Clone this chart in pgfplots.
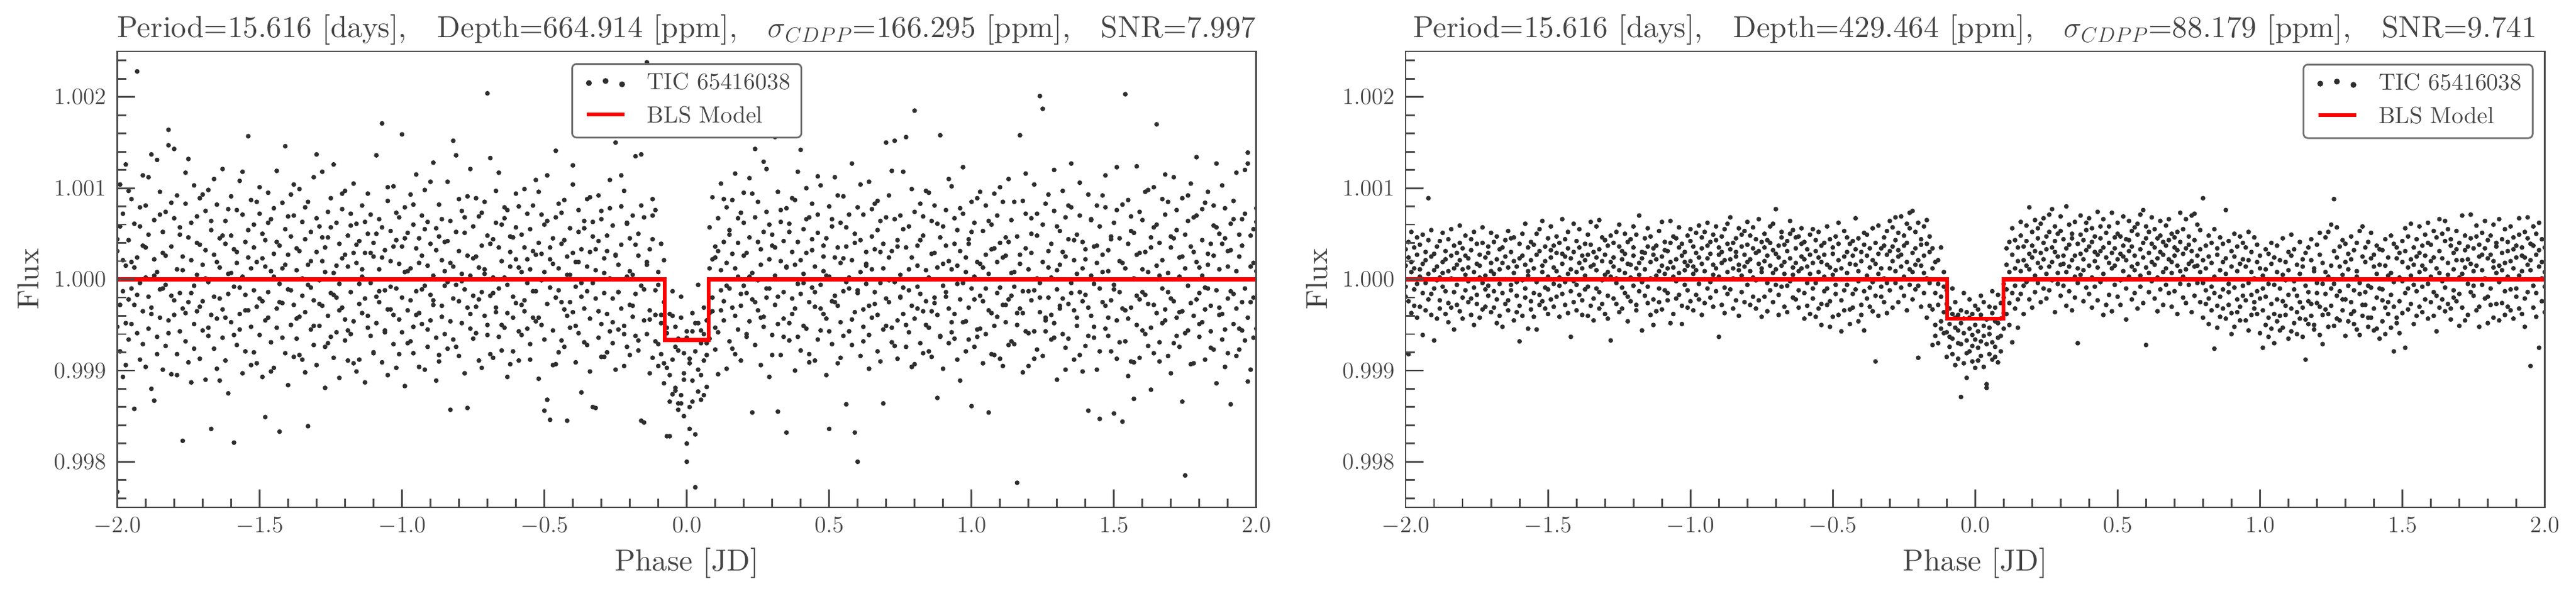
\RequirePackage{fix-cm}
\documentclass[border=0pt]{standalone}
\usepackage{fontspec}
\setmainfont{lmroman10-regular}[Extension=.otf, Ligatures=TeX]
\usepackage{pgfplots}
\pgfplotsset{compat=1.18}
\usepackage{pgfplotstable}
\definecolor{txt}{HTML}{444444}
\definecolor{frm}{HTML}{4D4D4D}
\definecolor{dot}{HTML}{2E2E2E}
\definecolor{legframe}{HTML}{6E6E6E}

\pgfplotstableread{
x a b c d
-2.00 0.99767 1.00031 0.99948 1.00044
-1.99 1.00058 0.99921 1.00104 0.99972
-1.98 0.99987 1.00072 0.99893 1.00021
-1.97 1.00015 0.99952 1.00126 0.99906
-1.96 0.99934 1.00043 0.99978 1.00097
-1.95 1.00088 0.99990 1.00019 0.99951
-1.94 0.99858 1.00061 0.99972 1.00013
-1.93 1.00228 0.99941 1.00024 0.99983
-1.92 1.00079 0.99996 0.99912 1.00058
-1.91 0.99965 1.00114 1.00037 0.99929
-1.90 1.00002 0.99904 1.00081 1.00035
-1.89 0.99946 1.00049 0.99981 1.00112
-1.88 1.00137 0.99969 0.99880 0.99962
-1.87 0.99867 1.00022 1.00065 1.00004
-1.86 1.00131 0.99937 1.00008 0.99918
-1.85 0.99989 1.00096 0.99958 1.00071
-1.84 1.00052 0.99901 1.00029 0.99990
-1.83 0.99927 1.00074 0.99994 1.00026
-1.82 1.00164 1.00147 0.99955 0.99941
-1.81 0.99982 1.00036 0.99896 1.00084
-1.80 1.00143 0.99961 1.00067 0.99977
-1.79 1.00011 0.99918 1.00092 0.99895
-1.78 0.99943 1.00057 0.99985 1.00049
-1.77 0.99823 1.00025 0.99968 1.00010
-1.76 1.00083 0.99932 1.00117 0.99963
-1.75 0.99975 1.00046 0.99909 1.00132
-1.74 1.00021 0.99887 1.00062 0.99985
-1.73 0.99951 1.00103 0.99993 0.99924
-1.72 1.00069 0.99965 1.00005 1.00040
-1.71 0.99913 1.00038 1.00089 0.99970
-1.70 1.00016 0.99944 0.99976 1.00093
-1.69 0.99890 1.00075 1.00032 1.00001
-1.68 1.00098 0.99997 0.99938 0.99947
-1.67 0.99836 1.00054 0.99961 1.00064
-1.66 1.00027 0.99924 1.00110 0.99981
-1.65 0.99957 1.00082 0.99902 1.00019
-1.64 1.00045 0.99979 1.00013 0.99889
-1.63 0.99936 1.00121 0.99967 1.00048
-1.62 1.00064 0.99911 1.00039 0.99958
-1.61 0.99984 1.00006 0.99875 1.00077
-1.60 1.00091 0.99953 1.00048 1.00007
-1.59 0.99821 1.00033 0.99992 0.99939
-1.58 1.00076 0.99928 1.00018 1.00030
-1.57 0.99962 1.00108 0.99945 0.99991
-1.56 1.00003 0.99897 1.00071 1.00118
-1.55 0.99921 1.00041 0.99983 0.99966
-1.54 1.00157 0.99966 1.00024 1.00054
-1.53 0.99948 1.00087 0.99906 1.00012
-1.52 1.00035 0.99988 1.00060 0.99920
-1.51 0.99908 1.00019 0.99970 1.00085
-1.50 1.00072 0.99939 1.00101 0.99979
-1.49 0.99976 1.00050 0.99893 1.00023
-1.48 0.99849 1.00014 1.00043 0.99955
-1.47 1.00095 0.99958 0.99986 1.00062
-1.46 0.99931 1.00066 1.00009 0.99899
-1.45 1.00028 0.99903 1.00078 1.00003
-1.44 0.99968 1.00119 0.99947 1.00041
-1.43 0.99833 1.00037 0.99995 0.99975
-1.42 1.00084 0.99974 1.00012 0.99936
-1.41 1.00146 0.99919 1.00055 1.00016
-1.40 0.99989 1.00027 0.99884 1.00069
-1.39 1.00047 0.99950 1.00093 0.99988
-1.38 0.99915 1.00070 0.99972 1.00104
-1.37 1.00010 0.99935 1.00034 0.99957
-1.36 0.99959 1.00099 0.99917 1.00031
-1.35 1.00063 0.99982 1.00001 0.99912
-1.34 0.99898 1.00044 0.99964 1.00079
-1.33 0.99839 1.00016 1.00085 0.99994
-1.32 1.00052 0.99945 0.99991 1.00020
-1.31 0.99977 1.00112 0.99928 0.99949
-1.30 1.00030 0.99906 1.00067 1.00137
-1.29 0.99949 1.00058 0.99999 0.99973
-1.28 1.00118 0.99971 1.00020 1.00046
-1.27 0.99926 1.00035 0.99881 1.00008
-1.26 1.00074 0.99960 1.00046 0.99930
-1.25 0.99985 1.00089 0.99937 1.00057
-1.24 1.00007 0.99914 1.00126 0.99983
-1.23 0.99942 1.00062 0.99980 1.00015
-1.22 1.00039 0.99995 0.99892 0.99966
-1.21 0.99969 1.00023 1.00077 1.00094
-1.20 1.00097 0.99933 0.99956 1.00027
-1.19 0.99911 1.00048 1.00014 0.99944
-1.18 1.00059 0.99986 0.99940 1.00072
-1.17 0.99954 1.00105 1.00029 0.99908
-1.16 1.00018 0.99899 1.00061 1.00038
-1.15 0.99973 1.00042 0.99912 0.99995
-1.14 1.00081 0.99963 1.00003 1.00011
-1.13 0.99887 1.00029 0.99979 1.00063
-1.12 1.00050 0.99947 1.00094 0.99960
-1.11 0.99938 1.00071 0.99996 1.00029
-1.10 1.00025 0.99920 1.00040 0.99919
-1.09 0.99981 1.00136 0.99952 1.00050
-1.08 1.00066 0.99975 1.00011 0.99987
-1.07 1.00171 0.99909 1.00057 1.00024
-1.06 0.99944 1.00032 0.99988 0.99942
-1.05 1.00086 0.99967 0.99895 1.00101
-1.04 0.99992 1.00053 1.00020 0.99967
-1.03 0.99929 1.00102 0.99961 1.00036
-1.02 1.00043 0.99990 1.00073 0.99903
-1.01 0.99956 1.00017 0.99918 1.00068
-1.00 1.00159 0.99942 1.00036 0.99980
-0.99 1.00008 1.00079 0.99883 1.00045
-0.98 0.99966 0.99930 1.00051 1.00009
-0.97 1.00093 1.00012 0.99977 0.99932
-0.96 0.99919 1.00060 0.99948 1.00082
-0.95 1.00034 0.99987 1.00115 0.99961
-0.94 0.99963 1.00045 0.99904 1.00018
-0.93 1.00070 0.99951 1.00026 0.99989
-0.92 0.99901 1.00098 0.99993 1.00055
-0.91 1.00015 0.99926 1.00063 0.99945
-0.90 0.99983 1.00039 0.99955 1.00107
-0.89 1.00128 0.99972 1.00004 0.99977
-0.88 0.99936 1.00056 0.99889 1.00032
-0.87 1.00047 0.99910 1.00082 0.99917
-0.86 0.99971 1.00021 0.99959 1.00066
-0.85 1.00009 0.99940 1.00041 0.99993
-0.84 0.99924 1.00107 0.99997 1.00042
-0.83 0.99857 1.00064 1.00018 0.99954
-0.82 1.00152 0.99979 0.99934 1.00014
-0.81 0.99994 1.00136 1.00052 0.99926
-0.80 1.00031 0.99916 0.99976 1.00088
-0.79 0.99952 1.00075 1.00006 0.99998
-0.78 1.00068 0.99989 0.99897 1.00051
-0.77 0.99859 1.00026 1.00091 0.99969
-0.76 1.00004 0.99946 0.99962 1.00121
-0.75 0.99935 1.00058 1.00023 0.99982
-0.74 1.00089 0.99970 0.99941 1.00025
-0.73 0.99978 1.00013 1.00069 0.99911
-0.72 1.00037 0.99903 0.99986 1.00073
-0.71 0.99960 1.00085 1.00011 1.00006
-0.70 1.00204 0.99939 1.00048 0.99950
-0.69 1.00133 0.99982 0.99918 1.00039
-0.68 0.99914 1.00044 1.00002 0.99985
-0.67 1.00062 0.99964 0.99969 1.00097
-0.66 0.99990 1.00117 1.00035 0.99937
-0.65 1.00020 0.99922 0.99950 1.00060
-0.64 0.99947 1.00067 1.00079 1.00002
-0.63 1.00076 0.99994 0.99893 0.99963
-0.62 0.99907 1.00030 1.00014 1.00047
-0.61 1.00046 0.99958 0.99981 0.99921
-0.60 0.99974 1.00094 1.00057 1.00022
-0.59 1.00013 0.99911 0.99943 1.00080
-0.58 0.99939 1.00049 1.00008 0.99972
-0.57 1.00099 0.99977 0.99965 1.00035
-0.56 0.99996 1.00022 1.00072 0.99946
-0.55 1.00055 0.99929 0.99912 1.00011
-0.54 0.99958 1.00081 1.00031 0.99987
-0.53 1.00027 0.99987 0.99954 1.00109
-0.52 0.99891 1.00040 1.00096 0.99958
-0.51 1.00071 0.99950 0.99999 1.00028
-0.50 0.99856 1.00008 1.00060 0.99934
-0.49 0.99868 1.00114 0.99973 1.00064
-0.48 0.99846 1.00035 1.00022 0.99991
-0.47 1.00045 0.99944 0.99906 1.00017
-0.46 0.99980 1.00141 1.00068 0.99907
-0.45 1.00012 0.99920 0.99988 1.00083
-0.44 0.99933 1.00073 1.00039 0.99975
-0.43 1.00087 0.99967 0.99926 1.00043
-0.42 0.99845 1.00025 1.00005 0.99960
-0.41 1.00056 0.99975 0.99947 1.00005
-0.40 0.99964 1.00104 1.00029 1.00125
-0.39 1.00019 0.99909 0.99992 0.99949
-0.38 0.99941 1.00052 1.00076 1.00019
-0.37 0.99876 0.99996 1.00033 0.99981
-0.36 1.00064 0.99931 0.99968 1.00056
-0.35 0.99987 1.00088 1.00014 0.99928
-0.34 1.00030 0.99957 0.99899 1.00090
-0.33 0.99860 1.00047 1.00063 0.99996
-0.32 0.99859 1.00010 0.99979 1.00033
-0.31 1.00092 0.99936 1.00042 0.99965
-0.30 0.99951 1.00066 0.99915 1.00075
-0.29 1.00023 0.99985 1.00007 0.99915
-0.28 0.99920 1.00031 0.99962 1.00048
-0.27 1.00078 0.99943 1.00109 1.00001
-0.26 0.99979 1.00059 0.99930 0.99953
-0.25 1.00150 0.99901 1.00026 1.00027
-0.24 0.99945 1.00016 0.99986 0.99986
-0.23 1.00038 0.99968 1.00080 1.00114
-0.22 0.99905 1.00097 0.99949 0.99940
-0.21 1.00061 0.99926 1.00003 1.00062
-0.20 0.99972 1.00045 0.99917 1.00009
-0.19 1.00005 0.99959 1.00070 0.99971
-0.18 1.00135 0.99984 0.99938 1.00038
-0.17 0.99933 1.00026 1.00050 0.99922
-0.16 0.99845 1.00137 0.99993 1.00081
-0.15 0.99843 1.00068 0.99955 0.99989
-0.14 1.00238 0.99940 1.00019 1.00016
-0.13 0.99897 1.00033 0.99966 0.99956
-0.12 1.00044 0.99914 1.00088 1.00070
-0.11 0.99961 1.00076 0.99988 0.99932
-0.10 1.00008 0.99929 0.99905 0.99994
-0.09 0.99918 1.00039 0.99952 0.99961
-0.08 0.99975 0.99886 1.00021 0.99908
-0.07 0.99828 0.99941 0.99903 0.99947
-0.06 0.99828 0.99866 0.99962 0.99895
-0.05 0.99912 0.99874 0.99987 0.99960
-0.04 0.99948 0.99881 0.99926 0.99878
-0.03 0.99864 0.99857 0.99935 0.99922
-0.02 0.99873 0.99864 0.99958 0.99981
-0.01 0.99850 0.99919 0.99897 0.99890
0.00 0.99820 0.99800 0.99936 0.99943
0.01 0.99836 0.99860 0.99908 0.99913
0.02 0.99943 0.99889 0.99963 0.99866
0.03 0.99772 0.99830 0.99921 0.99952
0.04 0.99952 0.99877 0.99994 0.99901
0.05 0.99895 0.99930 0.99868 0.99944
0.06 0.99969 0.99911 0.99940 0.99873
0.07 0.99882 0.99955 0.99917 0.99930
0.08 1.00012 0.99935 1.00057 0.99963
0.09 0.99965 1.00090 0.99980 1.00022
0.10 1.00036 0.99923 1.00024 0.99947
0.11 0.99942 1.00067 0.99896 1.00031
0.12 1.00105 0.99988 1.00010 0.99966
0.13 0.99976 1.00041 0.99955 1.00088
0.14 1.00018 0.99902 1.00079 0.99993
0.15 0.99932 1.00054 0.99990 1.00049
0.16 1.00087 0.99969 1.00028 0.99924
0.17 0.99960 1.00116 0.99918 1.00012
0.18 1.00040 0.99945 1.00003 1.00067
0.19 0.99911 1.00073 0.99971 0.99984
0.20 1.00062 0.99993 1.00095 1.00026
0.21 0.99985 1.00029 0.99937 0.99940
0.22 1.00111 0.99954 1.00046 1.00003
0.23 0.99854 1.00007 0.99978 1.00094
0.24 1.00143 0.99928 1.00068 0.99975
0.25 0.99966 1.00085 0.99999 1.00041
0.26 1.00033 0.99906 1.00016 0.99958
0.27 0.99948 1.00052 0.99959 1.00129
0.28 1.00074 0.99980 1.00121 0.99990
0.29 0.99990 1.00022 0.99893 1.00060
0.30 1.00049 0.99939 1.00037 0.99917
0.31 1.00156 0.99972 1.00004 1.00035
0.32 0.99855 1.00096 0.99951 0.99981
0.33 1.00020 0.99917 1.00063 1.00076
0.34 0.99957 1.00042 0.99986 0.99937
0.35 0.99832 1.00078 1.00013 1.00014
0.36 1.00061 0.99952 0.99933 1.00052
0.37 0.99979 1.00030 1.00089 0.99962
0.38 1.00016 0.99900 0.99968 1.00087
0.39 0.99937 1.00118 1.00041 0.99995
0.40 1.00142 0.99984 0.99922 1.00021
0.41 0.99996 1.00055 1.00006 0.99949
0.42 1.00029 0.99946 1.00100 1.00066
0.43 0.99918 1.00068 0.99975 0.99909
0.44 1.00083 0.99991 1.00032 1.00044
0.45 0.99970 1.00014 0.99911 0.99986
0.46 1.00051 0.99934 1.00071 1.00113
0.47 0.99944 1.00103 0.99994 0.99968
0.48 1.00009 0.99962 1.00025 1.00037
0.49 0.99895 1.00045 0.99957 1.00004
0.50 0.99836 1.00080 1.00003 0.99943
0.51 1.00066 0.99976 0.99929 1.00058
0.52 0.99982 1.00024 1.00112 0.99975
0.53 1.00035 0.99908 0.99971 1.00092
0.54 0.99953 1.00062 1.00018 0.99914
0.55 1.00091 0.99987 0.99938 1.00023
0.56 0.99863 1.00036 1.00057 0.99997
0.57 1.00002 0.99943 0.99990 1.00071
0.58 0.99928 1.00127 1.00021 0.99956
0.59 0.99832 1.00050 0.99964 1.00040
0.60 0.99800 0.99985 1.00079 0.99988
0.61 1.00043 0.99916 1.00008 1.00104
0.62 0.99967 1.00071 0.99948 0.99932
0.63 1.00017 0.99995 1.00030 1.00015
0.64 0.99939 1.00107 0.99902 0.99971
0.65 1.00077 0.99958 1.00011 1.00047
0.66 0.99986 1.00033 0.99973 1.00083
0.67 1.00054 0.99921 1.00086 0.99961
0.68 0.99910 1.00064 0.99996 1.00030
0.69 0.99864 1.00012 1.00039 0.99945
0.70 1.00150 0.99949 0.99979 1.00068
0.71 0.99975 1.00092 1.00024 0.99999
0.72 1.00031 0.99931 0.99947 1.00119
0.73 1.00152 0.99997 1.00066 0.99927
0.74 0.99955 1.00043 0.99913 1.00036
0.75 1.00070 0.99980 1.00005 0.99981
0.76 0.99991 1.00118 0.99962 1.00055
0.77 1.00156 0.99926 1.00035 0.99950
0.78 0.99942 1.00058 0.99988 1.00011
0.79 1.00024 0.99971 1.00099 0.99904
0.80 1.00185 0.99907 0.99957 1.00074
0.81 0.99968 1.00037 1.00015 0.99992
0.82 1.00083 0.99984 0.99930 1.00043
0.83 0.99919 1.00069 1.00048 0.99965
0.84 1.00010 0.99950 0.99976 1.00097
0.85 0.99947 1.00095 1.00002 0.99921
0.86 1.00064 0.99915 0.99965 1.00028
0.87 0.99980 1.00029 1.00081 0.99974
0.88 0.99870 0.99961 1.00013 1.00061
0.89 1.00158 1.00046 0.99937 0.99938
0.90 0.99993 0.99902 1.00058 1.00017
0.91 1.00037 1.00076 0.99981 0.99986
0.92 0.99930 0.99968 1.00020 1.00110
0.93 1.00102 1.00011 0.99942 0.99953
0.94 0.99962 0.99935 1.00067 1.00039
0.95 1.00015 1.00054 0.99995 0.99912
0.96 0.99889 0.99978 1.00031 1.00078
0.97 1.00072 1.00123 0.99953 0.99996
0.98 0.99954 0.99921 1.00008 1.00024
0.99 1.00044 1.00039 0.99969 0.99934
1.00 0.99861 0.99990 1.00085 1.00052
1.01 1.00003 1.00062 0.99926 0.99978
1.02 0.99937 0.99945 1.00019 1.00089
1.03 1.00096 1.00017 0.99982 0.99946
1.04 0.99976 0.99908 1.00053 1.00013
1.05 1.00027 1.00081 0.99940 0.99990
1.06 0.99854 0.99966 1.00006 1.00064
1.07 1.00060 1.00033 0.99963 0.99918
1.08 0.99949 0.99917 1.00094 1.00034
1.09 1.00019 1.00070 0.99985 0.99959
1.10 0.99913 0.99991 1.00040 1.00101
1.11 1.00085 1.00024 0.99905 0.99972
1.12 0.99972 0.99953 1.00026 1.00046
1.13 1.00041 1.00110 0.99978 0.99928
1.14 0.99932 0.99982 1.00065 1.00007
1.15 1.00008 0.99929 0.99992 1.00085
1.16 0.99777 1.00047 0.99950 0.99963
1.17 1.00158 0.99968 1.00017 1.00027
1.18 0.99963 1.00086 0.99898 0.99987
1.19 1.00034 0.99943 1.00072 1.00116
1.20 0.99905 1.00011 0.99987 0.99941
1.21 1.00067 0.99977 1.00029 1.00050
1.22 0.99988 1.00104 0.99943 0.99913
1.23 1.00048 0.99923 1.00001 1.00072
1.24 1.00201 0.99996 0.99964 0.99980
1.25 1.00187 1.00060 0.99916 1.00019
1.26 0.99943 0.99958 1.00083 0.99955
1.27 1.00013 1.00031 0.99980 1.00093
1.28 0.99961 0.99934 1.00039 1.00002
1.29 1.00120 1.00075 0.99952 0.99936
1.30 0.99890 0.99989 1.00010 1.00058
1.31 1.00053 1.00016 0.99971 0.99968
1.32 0.99979 0.99940 1.00097 1.00030
1.33 1.00025 1.00068 0.99925 0.99901
1.34 0.99935 0.99973 1.00044 1.00081
1.35 1.00079 1.00127 0.99996 0.99985
1.36 0.99966 0.99912 1.00021 1.00043
1.37 1.00006 1.00049 0.99958 0.99949
1.38 0.99917 0.99986 1.00070 1.00106
1.39 1.00041 1.00012 0.99899 0.99976
1.40 0.99983 0.99927 1.00033 1.00022
1.41 0.99856 1.00093 0.99969 0.99938
1.42 1.00066 0.99960 1.00004 1.00065
1.43 0.99948 1.00036 0.99936 0.99995
1.44 1.00018 0.99901 1.00081 1.00037
1.45 0.99847 1.00058 0.99990 0.99921
1.46 1.00092 0.99975 1.00027 1.00008
1.47 0.99971 1.00114 0.99946 1.00079
1.48 1.00032 0.99938 1.00009 0.99958
1.49 0.99921 1.00047 0.99977 1.00044
1.50 0.99853 0.99994 1.00062 0.99989
1.51 1.00076 0.99955 0.99913 1.00123
1.52 0.99986 1.00020 1.00045 0.99931
1.53 0.99844 1.00082 0.99968 1.00018
1.54 1.00203 0.99932 1.00012 0.99966
1.55 0.99957 1.00039 0.99894 1.00087
1.56 1.00069 0.99969 1.00053 0.99910
1.57 0.99909 0.99869 1.00001 1.00051
1.58 1.00124 1.00027 0.99950 0.99982
1.59 0.99978 0.99914 1.00074 1.00029
1.60 1.00011 1.00065 0.99986 0.99944
1.61 0.99940 0.99983 1.00030 1.00096
1.62 1.00098 1.00008 0.99927 0.99973
1.63 0.99879 0.99947 1.00046 1.00035
1.64 1.00057 1.00101 0.99972 0.99919
1.65 1.00170 0.99963 1.00015 1.00060
1.66 0.99931 1.00040 0.99910 1.00004
1.67 1.00021 0.99990 1.00088 0.99952
1.68 0.99967 1.00071 0.99955 1.00115
1.69 1.00085 0.99916 1.00007 0.99986
1.70 0.99897 1.00035 0.99979 1.00047
1.71 1.00045 0.99976 1.00112 0.99930
1.72 0.99958 1.00054 0.99938 1.00076
1.73 1.00003 0.99926 1.00024 0.99964
1.74 0.99866 1.00089 0.99965 1.00025
1.75 0.99785 1.00012 1.00049 0.99941
1.76 1.00064 0.99944 0.99993 1.00092
1.77 0.99974 1.00105 1.00036 0.99907
1.78 1.00030 0.99960 0.99908 1.00068
1.79 1.00134 1.00019 1.00070 0.99978
1.80 0.99937 0.99985 0.99951 1.00013
1.81 1.00077 1.00043 1.00004 0.99953
1.82 0.99991 0.99912 0.99967 1.00084
1.83 1.00016 1.00096 1.00028 0.99990
1.84 0.99925 0.99971 0.99943 1.00039
1.85 1.00059 1.00026 1.00081 0.99923
1.86 1.00127 0.99886 0.99988 1.00057
1.87 0.99961 1.00050 1.00011 0.99969
1.88 1.00039 0.99934 0.99962 1.00103
1.89 0.99904 1.00078 1.00045 0.99945
1.90 1.00014 0.99979 0.99919 1.00031
1.91 0.99863 1.00061 1.00032 0.99987
1.92 1.00086 0.99951 0.99984 1.00066
1.93 0.99968 1.00117 1.00009 0.99916
1.94 1.00025 0.99923 0.99946 1.00049
1.95 0.99944 1.00037 1.00066 0.99975
1.96 1.00072 0.99990 0.99933 1.00120
1.97 0.99888 1.00139 1.00127 0.99958
1.98 1.00048 0.99901 0.99975 1.00014
1.99 0.99980 1.00055 1.00018 0.99936
2.00 1.00009 0.99946 1.00063 1.00078
}\dataL

\pgfplotstableread{
x a b c d
-2.00 1.00015 0.99981 1.00033 0.99992
-1.99 0.99918 1.00024 0.99976 1.00041
-1.98 1.00008 0.99963 1.00019 1.00052
-1.97 0.99989 1.00035 0.99971 1.00012
-1.96 1.00027 0.99995 1.00046 0.99958
-1.95 0.99970 1.00011 1.00003 1.00038
-1.94 0.99939 1.00049 0.99985 1.00017
-1.93 1.00021 0.99966 1.00030 0.99996
-1.92 1.00089 1.00006 0.99978 1.00043
-1.91 0.99984 1.00025 1.00054 0.99961
-1.90 0.99933 1.00010 0.99990 1.00028
-1.89 1.00036 0.99957 1.00014 0.99999
-1.88 0.99977 1.00042 1.00002 0.99968
-1.87 1.00019 0.99992 1.00051 1.00007
-1.86 0.99962 1.00031 0.99987 1.00022
-1.85 1.00044 0.99974 1.00009 0.99953
-1.84 1.00001 1.00055 0.99969 1.00026
-1.83 0.99986 0.99945 1.00037 1.00012
-1.82 1.00029 1.00016 0.99994 0.99972
-1.81 0.99965 1.00040 1.00021 1.00059
-1.80 1.00011 0.99980 0.99957 1.00034
-1.79 1.00048 1.00005 1.00026 0.99988
-1.78 0.99975 1.00023 0.99998 1.00013
-1.77 1.00032 0.99961 1.00044 0.99979
-1.76 0.99991 1.00052 1.00008 0.99950
-1.75 1.00017 0.99983 0.99973 1.00039
-1.74 0.99958 1.00027 1.00015 1.00002
-1.73 1.00040 0.99996 1.00057 0.99967
-1.72 1.00004 0.99970 0.99989 1.00024
-1.71 0.99982 1.00036 1.00029 0.99993
-1.70 1.00051 1.00009 0.99964 1.00018
-1.69 0.99969 0.99987 1.00041 1.00006
-1.68 1.00022 1.00047 0.99978 0.99952
-1.67 0.99995 0.99960 1.00011 1.00033
-1.66 1.00035 1.00018 0.99948 0.99985
-1.65 0.99973 1.00043 1.00025 1.00000
-1.64 1.00013 0.99977 1.00053 0.99966
-1.63 0.99988 1.00030 0.99994 1.00045
-1.62 1.00046 0.99955 1.00007 1.00020
-1.61 0.99964 1.00014 0.99982 0.99997
-1.60 0.99932 1.00039 1.00023 0.99971
-1.59 1.00026 0.99999 0.99960 1.00050
-1.58 0.99980 1.00061 1.00016 0.99990
-1.57 1.00009 0.99946 1.00035 1.00004
-1.56 0.99967 1.00021 0.99976 1.00041
-1.55 1.00038 0.99985 1.00012 0.99959
-1.54 0.99997 1.00050 0.99945 1.00027
-1.53 1.00055 0.99972 1.00031 0.99983
-1.52 0.99976 1.00008 1.00064 1.00015
-1.51 1.00020 0.99991 0.99968 1.00036
-1.50 0.99989 1.00045 1.00003 0.99962
-1.49 1.00032 0.99978 1.00024 1.00058
-1.48 0.99970 1.00013 0.99995 1.00037
-1.47 1.00047 1.00029 0.99981 1.00009
-1.46 1.00002 0.99959 1.00040 0.99993
-1.45 0.99984 1.00066 1.00017 1.00028
-1.44 1.00025 0.99997 0.99972 1.00044
-1.43 0.99963 1.00034 1.00052 1.00006
-1.42 0.99937 1.00011 0.99987 1.00023
-1.41 1.00061 0.99975 1.00030 0.99998
-1.40 0.99994 1.00042 1.00008 0.99966
-1.39 1.00018 0.99983 1.00055 1.00035
-1.38 0.99977 1.00026 0.99961 1.00012
-1.37 1.00039 1.00004 1.00021 0.99989
-1.36 0.99960 1.00049 0.99992 1.00027
-1.35 1.00014 0.99971 1.00038 1.00063
-1.34 1.00030 1.00016 0.99979 0.99955
-1.33 0.99990 1.00058 1.00010 1.00024
-1.32 1.00065 0.99986 1.00033 0.99968
-1.31 0.99973 1.00020 0.99999 1.00046
-1.30 1.00043 0.99962 1.00027 1.00005
-1.29 1.00008 1.00037 0.99957 0.99982
-1.28 0.99933 1.00003 1.00048 1.00019
-1.27 1.00024 0.99979 1.00014 1.00040
-1.26 0.99996 1.00052 0.99973 1.00001
-1.25 1.00036 1.00010 1.00060 0.99964
-1.24 0.99968 0.99991 1.00022 1.00031
-1.23 1.00050 1.00028 0.99985 1.00007
-1.22 0.99981 0.99954 1.00041 1.00017
-1.21 1.00016 1.00044 1.00002 0.99976
-1.20 1.00058 0.99993 1.00026 1.00035
-1.19 0.99972 1.00012 0.99966 1.00049
-1.18 1.00005 1.00070 1.00018 0.99987
-1.17 0.99944 1.00023 0.99997 1.00030
-1.16 1.00029 0.99982 1.00045 1.00011
-1.15 0.99992 1.00036 0.99974 1.00056
-1.14 1.00047 1.00001 1.00019 0.99961
-1.13 0.99978 1.00027 0.99950 1.00034
-1.12 1.00022 0.99965 1.00037 1.00004
-1.11 1.00009 1.00053 0.99990 0.99975
-1.10 0.99967 1.00015 1.00063 1.00025
-1.09 1.00041 0.99988 1.00006 1.00032
-1.08 0.99985 1.00031 0.99977 1.00012
-1.07 1.00064 1.00019 1.00040 0.99952
-1.06 1.00003 0.99962 1.00013 1.00047
-1.05 0.99979 1.00045 0.99998 1.00022
-1.04 1.00035 1.00007 1.00057 0.99983
-1.03 0.99951 1.00026 0.99971 1.00039
-1.02 1.00019 0.99994 1.00030 1.00010
-1.01 0.99988 1.00048 1.00015 0.99969
-1.00 1.00042 1.00020 0.99976 1.00055
-0.99 1.00006 0.99966 1.00036 1.00014
-0.98 0.99983 1.00051 1.00010 1.00029
-0.97 1.00059 0.99995 1.00024 0.99978
-0.96 1.00017 1.00034 0.99961 1.00046
-0.95 0.99974 1.00009 1.00052 1.00000
-0.94 1.00037 1.00062 0.99990 1.00023
-0.93 0.99997 0.99980 1.00028 1.00041
-0.92 1.00049 1.00016 0.99970 1.00005
-0.91 1.00012 1.00043 1.00058 0.99987
-0.90 0.99937 1.00027 1.00003 1.00035
-0.89 1.00030 0.99972 1.00047 1.00018
-0.88 0.99991 1.00055 1.00021 0.99963
-0.87 1.00061 1.00008 0.99984 1.00039
-0.86 1.00022 0.99989 1.00033 1.00068
-0.85 0.99968 1.00040 1.00012 1.00001
-0.84 1.00045 1.00025 0.99977 1.00030
-0.83 1.00010 0.99960 1.00056 1.00016
-0.82 0.99986 1.00036 1.00004 1.00049
-0.81 1.00053 1.00014 1.00027 0.99975
-0.80 1.00019 0.99994 1.00063 1.00038
-0.79 0.99972 1.00048 1.00009 1.00022
-0.78 1.00034 1.00002 0.99981 1.00057
-0.77 0.99999 1.00029 1.00044 0.99968
-0.76 1.00066 0.99977 1.00017 1.00031
-0.75 1.00008 1.00041 0.99959 1.00012
-0.74 0.99981 1.00020 1.00050 1.00035
-0.73 1.00043 0.99965 1.00026 0.99996
-0.72 1.00015 1.00058 0.99988 1.00040
-0.71 0.99975 1.00032 1.00061 1.00007
-0.70 1.00077 1.00011 0.99994 1.00028
-0.69 1.00024 0.99983 1.00037 0.99961
-0.68 0.99992 1.00046 1.00015 1.00052
-0.67 1.00038 1.00006 0.99970 1.00019
-0.66 0.99964 1.00031 1.00042 0.99993
-0.65 1.00050 0.99998 1.00023 1.00064
-0.64 1.00005 1.00054 0.99980 1.00013
-0.63 0.99978 1.00018 1.00034 1.00046
-0.62 1.00047 0.99969 1.00009 0.99988
-0.61 1.00012 1.00039 1.00056 1.00025
-0.60 0.99985 1.00022 0.99957 1.00041
-0.59 1.00033 0.99996 1.00014 0.99971
-0.58 0.99962 1.00049 1.00027 1.00006
-0.57 1.00018 0.99979 0.99990 1.00055
-0.56 0.99996 1.00031 1.00043 0.99959
-0.55 1.00052 1.00008 0.99968 1.00024
-0.54 0.99973 0.99950 1.00019 1.00037
-0.53 1.00027 1.00040 0.99987 1.00003
-0.52 0.99990 0.99972 1.00058 1.00016
-0.51 1.00044 1.00013 0.99976 0.99948
-0.50 0.99959 1.00035 1.00005 1.00028
-0.49 1.00010 0.99984 1.00047 0.99994
-0.48 1.00062 1.00021 0.99961 1.00039
-0.47 0.99977 0.99943 1.00012 1.00000
-0.46 1.00025 1.00053 0.99988 0.99966
-0.45 0.99994 1.00007 1.00030 1.00046
-0.44 1.00039 0.99967 0.99951 1.00017
-0.43 0.99969 1.00026 1.00042 0.99984
-0.42 1.00016 0.99989 1.00067 1.00033
-0.41 0.99954 1.00045 0.99998 1.00009
-0.40 1.00030 0.99972 1.00020 0.99961
-0.39 0.99987 1.00038 0.99944 1.00051
-0.38 1.00049 1.00004 1.00026 0.99979
-0.37 0.99970 0.99991 1.00013 1.00034
-0.36 1.00021 1.00056 0.99965 0.99997
-0.35 0.99910 1.00017 1.00040 0.99982
-0.34 1.00006 0.99960 1.00028 1.00059
-0.33 0.99981 1.00034 0.99992 1.00012
-0.32 1.00046 1.00001 0.99975 1.00037
-0.31 0.99963 1.00027 1.00053 0.99996
-0.30 1.00031 0.99988 1.00012 1.00064
-0.29 1.00057 1.00020 0.99969 1.00036
-0.28 0.99996 1.00043 1.00068 1.00009
-0.27 1.00025 0.99975 1.00032 1.00051
-0.26 1.00069 1.00014 0.99991 1.00027
-0.25 0.99982 1.00048 1.00037 1.00003
-0.24 1.00040 1.00061 0.99966 1.00019
-0.23 1.00011 0.99994 1.00056 1.00073
-0.22 1.00075 1.00029 1.00008 0.99978
-0.21 0.99989 1.00052 1.00034 1.00016
-0.20 0.99914 1.00021 1.00062 0.99993
-0.19 1.00044 0.99970 1.00015 1.00038
-0.18 1.00007 1.00058 0.99985 1.00026
-0.17 1.00065 1.00001 1.00039 0.99958
-0.16 0.99971 1.00030 0.99996 1.00047
-0.15 0.99928 1.00012 0.99967 1.00034
-0.14 0.99985 0.99950 1.00019 0.99938
-0.13 1.00021 0.99972 0.99930 0.99995
-0.12 0.99954 1.00035 0.99981 0.99946
-0.11 0.99992 0.99941 1.00008 0.99964
-0.10 0.99973 0.99942 0.99915 0.99988
-0.09 0.99951 0.99926 0.99968 0.99937
-0.08 0.99918 0.99962 0.99935 0.99990
-0.07 0.99947 0.99906 0.99975 0.99958
-0.06 0.99930 0.99961 0.99913 0.99944
-0.05 0.99871 0.99952 0.99929 0.99966
-0.04 0.99941 0.99908 0.99957 0.99985
-0.03 0.99892 0.99964 0.99933 0.99919
-0.02 0.99958 0.99921 0.99978 0.99946
-0.01 0.99910 0.99939 0.99962 0.99927
0.00 0.99950 0.99903 0.99971 0.99934
0.01 0.99925 0.99967 0.99943 0.99911
0.02 0.99961 0.99932 0.99916 0.99982
0.03 0.99938 0.99975 0.99949 0.99904
0.04 0.99885 0.99881 0.99956 0.99929
0.05 0.99947 0.99918 0.99970 0.99940
0.06 0.99912 0.99963 0.99931 0.99987
0.07 0.99969 0.99926 0.99954 0.99915
0.08 0.99936 0.99983 0.99909 0.99952
0.09 0.99957 0.99921 0.99974 0.99938
0.10 0.99980 0.99946 0.99995 0.99963
0.11 1.00016 0.99962 1.00034 0.99989
0.12 0.99974 1.00041 0.99950 1.00008
0.13 1.00027 0.99985 1.00056 0.99931
0.14 0.99968 1.00012 0.99993 1.00043
0.15 1.00035 0.99947 1.00020 0.99978
0.16 1.00048 1.00009 0.99984 1.00063
0.17 0.99993 1.00036 1.00021 0.99962
0.18 1.00059 1.00015 1.00042 0.99997
0.19 1.00079 0.99978 1.00028 1.00011
0.20 1.00024 1.00052 0.99969 1.00037
0.21 0.99986 1.00031 1.00065 1.00004
0.22 1.00045 0.99996 1.00018 1.00056
0.23 1.00013 1.00061 0.99975 1.00029
0.24 1.00067 1.00022 1.00040 0.99990
0.25 0.99979 1.00047 1.00006 1.00033
0.26 1.00071 1.00014 0.99988 1.00052
0.27 1.00077 0.99999 1.00035 1.00019
0.28 1.00030 1.00058 0.99964 1.00042
0.29 0.99995 1.00025 1.00050 1.00007
0.30 1.00053 0.99982 1.00016 1.00069
0.31 1.00017 1.00044 0.99993 1.00026
0.32 1.00080 1.00008 1.00034 0.99971
0.33 1.00038 0.99987 1.00060 1.00014
0.34 0.99966 1.00050 1.00021 1.00045
0.35 1.00026 1.00003 0.99980 1.00063
0.36 0.99930 1.00039 1.00012 0.99996
0.37 1.00049 1.00070 1.00028 1.00005
0.38 1.00010 0.99976 1.00043 1.00022
0.39 1.00062 1.00032 0.99991 1.00054
0.40 0.99984 1.00015 1.00067 1.00036
0.41 1.00041 1.00056 1.00002 0.99969
0.42 1.00020 0.99992 1.00030 1.00047
0.43 1.00074 1.00027 0.99977 1.00013
0.44 0.99997 1.00045 1.00058 1.00031
0.45 1.00035 1.00006 0.99961 1.00066
0.46 0.99972 1.00051 1.00024 1.00000
0.47 1.00058 1.00018 1.00040 0.99983
0.48 1.00012 0.99965 1.00073 1.00029
0.49 1.00046 1.00034 0.99994 1.00015
0.50 0.99981 1.00062 1.00022 1.00050
0.51 1.00028 0.99999 1.00047 0.99972
0.52 1.00069 1.00037 1.00009 1.00025
0.53 0.99990 1.00021 0.99956 1.00044
0.54 1.00043 1.00064 1.00031 1.00003
0.55 1.00014 0.99978 1.00053 1.00036
0.56 1.00057 1.00026 0.99985 1.00010
0.57 0.99968 1.00049 1.00017 1.00061
0.58 1.00033 1.00004 1.00071 0.99992
0.59 1.00076 1.00040 0.99974 1.00024
0.60 0.99928 1.00013 1.00045 1.00058
0.61 1.00052 0.99986 1.00029 1.00007
0.62 1.00019 1.00068 0.99998 1.00039
0.63 0.99979 1.00035 1.00055 1.00016
0.64 1.00045 1.00002 1.00023 0.99965
0.65 1.00064 1.00030 0.99989 1.00048
0.66 1.00008 0.99972 1.00041 1.00027
0.67 1.00037 1.00059 1.00012 0.99994
0.68 0.99985 1.00022 1.00066 1.00043
0.69 1.00050 1.00007 0.99970 1.00019
0.70 1.00026 1.00046 1.00035 0.99987
0.71 0.99962 1.00015 1.00052 1.00032
0.72 1.00041 1.00073 0.99995 1.00009
0.73 1.00003 0.99980 1.00028 1.00055
0.74 1.00066 1.00034 1.00011 0.99974
0.75 0.99994 1.00017 1.00047 1.00038
0.76 1.00031 0.99964 1.00020 1.00070
0.77 1.00072 1.00043 0.99982 1.00014
0.78 1.00015 1.00026 1.00060 0.99996
0.79 0.99975 1.00054 1.00008 1.00033
0.80 1.00089 0.99996 1.00021 0.99958
0.81 0.99973 1.00037 0.99988 1.00012
0.82 1.00025 0.99951 1.00048 0.99979
0.83 0.99992 1.00018 0.99966 1.00040
0.84 0.99924 1.00055 1.00003 0.99985
0.85 1.00034 0.99971 1.00027 0.99947
0.86 0.99959 1.00010 0.99981 1.00046
0.87 1.00019 0.99989 1.00039 0.99968
0.88 1.00076 0.99957 1.00006 1.00023
0.89 0.99986 1.00042 0.99972 0.99995
0.90 1.00031 0.99963 1.00014 0.99940
0.91 0.99948 1.00025 0.99991 1.00050
0.92 1.00009 0.99978 1.00036 0.99964
0.93 0.99970 1.00047 0.99955 1.00017
0.94 1.00040 0.99993 1.00022 0.99982
0.95 0.99955 1.00014 0.99977 1.00035
0.96 1.00021 0.99944 1.00052 0.99996
0.97 0.99983 1.00030 0.99961 1.00008
0.98 1.00046 0.99968 1.00001 0.99975
0.99 0.99962 1.00019 0.99987 1.00038
1.00 1.00012 0.99941 0.99979 1.00026
1.01 0.99925 1.00004 0.99966 0.99990
1.02 0.99981 1.00033 0.99950 1.00011
1.03 1.00028 0.99958 0.99995 0.99937
1.04 0.99946 1.00017 0.99973 1.00040
1.05 0.99994 0.99930 1.00024 0.99962
1.06 1.00037 0.99978 0.99954 1.00008
1.07 0.99960 1.00021 0.99990 0.99944
1.08 1.00005 0.99947 1.00045 0.99976
1.09 0.99971 0.99999 0.99961 1.00019
1.10 1.00030 0.99935 1.00010 0.99983
1.11 0.99943 1.00026 0.99968 1.00049
1.12 0.99989 0.99952 1.00033 0.99998
1.13 1.00016 0.99982 0.99940 0.99964
1.14 0.99957 1.00041 0.99975 1.00006
1.15 1.00022 0.99969 1.00014 0.99937
1.16 0.99912 0.99993 0.99956 1.00029
1.17 0.99976 1.00035 0.99986 0.99951
1.18 1.00044 0.99960 1.00021 0.99973
1.19 0.99950 1.00009 0.99945 1.00012
1.20 0.99996 0.99974 1.00038 0.99985
1.21 1.00027 0.99939 0.99970 1.00051
1.22 0.99961 1.00018 0.99995 0.99929
1.23 1.00008 0.99984 1.00046 0.99967
1.24 0.99948 1.00052 0.99962 1.00003
1.25 1.00060 0.99971 1.00015 0.99990
1.26 1.00088 0.99995 0.99949 1.00031
1.27 0.99982 1.00024 1.00057 0.99957
1.28 1.00036 0.99955 0.99987 1.00014
1.29 0.99966 1.00043 1.00005 0.99978
1.30 1.00019 0.99978 0.99938 1.00039
1.31 0.99954 1.00011 1.00028 0.99993
1.32 1.00047 0.99962 0.99975 1.00022
1.33 0.99988 1.00032 0.99951 0.99965
1.34 1.00003 0.99945 1.00040 1.00009
1.35 0.99939 0.99996 0.99984 1.00053
1.36 1.00025 1.00058 0.99960 0.99972
1.37 0.99972 0.99986 1.00019 1.00035
1.38 1.00041 0.99948 0.99993 0.99958
1.39 0.99958 1.00023 1.00051 0.99991
1.40 1.00014 0.99968 0.99944 1.00027
1.41 0.99980 1.00037 1.00006 0.99946
1.42 0.99935 0.99990 1.00033 1.00016
1.43 1.00032 0.99954 0.99977 0.99989
1.44 0.99969 1.00015 0.99940 1.00044
1.45 1.00004 0.99975 1.00024 0.99962
1.46 0.99947 1.00048 0.99983 1.00007
1.47 0.99921 0.99997 1.00039 0.99970
1.48 1.00035 0.99958 0.99952 1.00023
1.49 0.99976 1.00029 1.00002 0.99941
1.50 0.99998 0.99963 1.00042 1.00019
1.51 0.99925 1.00031 0.99985 1.00056
1.52 1.00047 0.99990 1.00013 0.99967
1.53 0.99973 1.00022 1.00061 1.00004
1.54 1.00016 0.99951 0.99994 1.00035
1.55 0.99987 1.00044 1.00025 0.99960
1.56 1.00058 1.00008 0.99970 1.00029
1.57 0.99964 1.00037 1.00015 0.99992
1.58 1.00026 0.99978 1.00049 1.00011
1.59 0.99995 1.00062 0.99957 1.00040
1.60 1.00038 1.00003 1.00020 0.99975
1.61 0.99960 0.99986 1.00053 1.00024
1.62 1.00012 1.00046 0.99982 0.99943
1.63 1.00066 0.99969 1.00031 1.00007
1.64 0.99978 1.00023 0.99998 1.00050
1.65 1.00042 0.99991 1.00064 0.99965
1.66 1.00005 1.00055 0.99973 1.00018
1.67 0.99968 0.99956 1.00037 1.00044
1.68 1.00029 1.00011 0.99988 0.99980
1.69 1.00053 0.99976 1.00021 1.00033
1.70 0.99984 1.00040 0.99949 1.00002
1.71 1.00021 1.00006 1.00070 0.99969
1.72 0.99955 1.00032 1.00013 1.00048
1.73 1.00036 0.99961 0.99995 1.00022
1.74 1.00071 1.00017 1.00045 0.99986
1.75 0.99993 0.99982 1.00009 1.00034
1.76 1.00047 1.00059 0.99966 1.00015
1.77 0.99970 1.00025 1.00038 0.99948
1.78 1.00010 0.99994 1.00051 1.00027
1.79 1.00064 1.00034 0.99979 1.00001
1.80 0.99981 0.99952 1.00023 1.00043
1.81 1.00027 1.00048 0.99990 0.99972
1.82 0.99958 1.00013 1.00060 1.00020
1.83 1.00040 0.99973 1.00007 1.00036
1.84 1.00015 1.00066 0.99955 0.99997
1.85 0.99974 1.00029 1.00044 1.00010
1.86 1.00055 0.99987 1.00018 0.99961
1.87 1.00003 1.00041 0.99970 1.00031
1.88 0.99966 1.00020 1.00058 0.99989
1.89 1.00033 0.99957 1.00012 1.00046
1.90 0.99990 1.00037 0.99981 1.00024
1.91 1.00049 1.00004 1.00067 0.99968
1.92 0.99962 1.00026 1.00035 1.00009
1.93 1.00024 0.99979 0.99948 1.00052
1.94 1.00068 1.00045 1.00016 0.99986
1.95 0.99905 1.00010 1.00039 1.00021
1.96 1.00037 0.99969 0.99993 1.00058
1.97 0.99985 1.00050 1.00027 0.99959
1.98 0.99925 1.00014 1.00062 1.00032
1.99 1.00044 0.99976 1.00001 1.00019
2.00 1.00008 1.00035 0.99964 0.99992
}\dataR

\pgfplotsset{
  lc/.style={
    scale only axis, width=663.3pt, height=265.6pt,
    anchor=south west,
    xmin=-2, xmax=2, ymin=0.9975, ymax=1.0025,
    enlargelimits=false, clip marker paths=true, axis on top=true,
    axis line style={frm, line width=1pt},
    tick style={frm, line width=1pt},
    major tick length=10.3pt, minor tick length=5.2pt,
    tick align=inside, tick pos=left,
    scaled x ticks=false, scaled y ticks=false,
    xtick={-2,-1.5,-1,-0.5,0,0.5,1,1.5,2},
    xticklabels={$-2.0$,$-1.5$,$-1.0$,$-0.5$,$0.0$,$0.5$,$1.0$,$1.5$,$2.0$},
    minor x tick num=4,
    ytick={0.998,0.999,1,1.001,1.002},
    yticklabels={$0.998$,$0.999$,$1.000$,$1.001$,$1.002$},
    minor ytick={0.9976,0.9978,0.9982,0.9984,0.9986,0.9988,0.9992,0.9994,0.9996,0.9998,1.0002,1.0004,1.0006,1.0008,1.0012,1.0014,1.0016,1.0018,1.0022,1.0024},
    tick label style={font=\fontsize{13.6}{16}\selectfont, text=txt},
    xticklabel style={anchor=base, yshift=-14.6pt, inner sep=0pt},
    yticklabel style={anchor=east, xshift=-6.3pt, inner sep=0pt},
    xlabel={Phase [JD]}, ylabel={Flux},
    every axis x label/.style={at={(axis description cs:0.5,-0.13931)}, anchor=base, font=\fontsize{17.7}{21}\selectfont, text=txt},
    every axis y label/.style={at={(axis description cs:-0.06905,0.5)}, rotate=90, anchor=base, font=\fontsize{17.7}{21}\selectfont, text=txt},
    every axis title/.style={at={(axis description cs:0.5,1.03012)}, anchor=base, font=\fontsize{17.7}{21}\selectfont, text=txt},
    legend style={draw=legframe, line width=1pt, rounded corners=2.5pt, fill=white,
      font=\fontsize{13.6}{16}\selectfont, text=txt,
      inner xsep=6.3pt, inner ysep=5.5pt, row sep=6.6pt, column sep=11.9pt,
      nodes={inner sep=0pt, text height=9.4pt, text depth=3.2pt},
      cells={anchor=west}},
  },
  pts/.style={only marks, mark=*, mark size=1.17pt, color=dot, mark options={fill=dot, draw=none},
    legend image code/.code={
      \path (-1.2pt,0pt) (22pt,0pt);
      \fill[dot] (1.1pt,0.7pt) circle[radius=1.17pt];
      \fill[dot] (10.8pt,1.9pt) circle[radius=1.17pt];
      \fill[dot] (20.4pt,-0.02pt) circle[radius=1.17pt];
    }},
  bls/.style={color=red, line width=2.3pt, line join=miter, mark=none, sharp plot,
    legend image code/.code={
      \path (-1.2pt,0pt) (22pt,0pt);
      \draw[red, line width=2.3pt] (0pt,1.5pt) -- (22pt,1.5pt);
    }},
}

\begin{document}
\begin{tikzpicture}
\path[use as bounding box] (0,0) rectangle (1500pt,345.98pt);
\begin{axis}[lc, at={(68.26pt,50.46pt)},
  title={Period=15.616 [days],\quad Depth=664.914 [ppm],\quad $\sigma_{CDPP}$=166.295 [ppm],\quad SNR=7.997},
  legend style={at={(axis description cs:0.5,0.97421)}, anchor=north}]
\addplot[pts] table[x=x,y=a]{\dataL};
\addlegendentry{TIC 65416038}
\addplot[pts,forget plot] table[x=x,y=b]{\dataL};
\addplot[pts,forget plot] table[x=x,y=c]{\dataL};
\addplot[pts,forget plot] table[x=x,y=d]{\dataL};
\addplot[bls] coordinates {(-2,1) (-0.077,1) (-0.077,0.999335) (0.077,0.999335) (0.077,1) (2,1)};
\addlegendentry{BLS Model}
\end{axis}
\begin{axis}[lc, at={(818.5pt,50.46pt)},
  title={Period=15.616 [days],\quad Depth=429.464 [ppm],\quad $\sigma_{CDPP}$=88.179 [ppm],\quad SNR=9.741},
  legend style={at={(axis description cs:0.9902,0.9729)}, anchor=north east}]
\addplot[pts] table[x=x,y=a]{\dataR};
\addlegendentry{TIC 65416038}
\addplot[pts,forget plot] table[x=x,y=b]{\dataR};
\addplot[pts,forget plot] table[x=x,y=c]{\dataR};
\addplot[pts,forget plot] table[x=x,y=d]{\dataR};
\addplot[bls] coordinates {(-2,1) (-0.099,1) (-0.099,0.99957) (0.099,0.99957) (0.099,1) (2,1)};
\addlegendentry{BLS Model}
\end{axis}
\end{tikzpicture}
\end{document}
